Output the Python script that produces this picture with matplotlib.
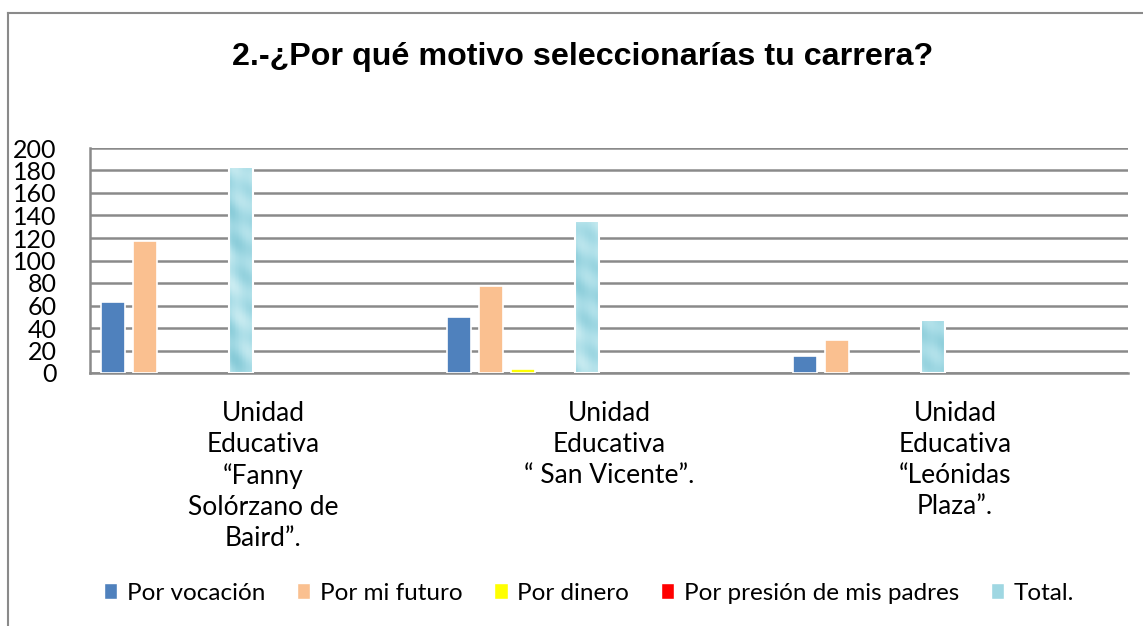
import numpy as np
import matplotlib
matplotlib.use('Agg')
import matplotlib.pyplot as plt
from matplotlib.lines import Line2D
from matplotlib.patches import Patch

# data
categories = ['Unidad\nEducativa\n\u201cFanny\nSol\u00f3rzano de\nBaird\u201d.',
              'Unidad\nEducativa\n\u201c San Vicente\u201d.',
              'Unidad\nEducativa\n\u201cLe\u00f3nidas\nPlaza\u201d.']
series = ['Por vocaci\u00f3n', 'Por mi futuro', 'Por dinero',
          'Por presi\u00f3n de mis padres', 'Total.']
vocacion = [63, 50, 15]
futuro = [117, 77, 29]
dinero = [0, 4, 0]
presion = [0, 0, 0]
total = [183, 135, 47]
yticks = list(range(0, 201, 20))

values = [vocacion, futuro, dinero, presion, total]
colors = ['#4f81bd', '#fac090', '#ffff00', '#ff0000', '#9fd7e2']

W, H = 1143, 626
fig = plt.figure(figsize=(W / 100, H / 100), dpi=100)
ax = fig.add_axes([90 / W, 1 - 373 / H, (1128 - 90) / W, (373 - 148) / H])

grid_c = '#8a8a8a'
catw = 346.0
bw = 24 / catw
cmap_w = matplotlib.colors.LinearSegmentedColormap.from_list('w', ['#7fc6d4', '#a9dde7', '#d3f0f4'])
gx, gy = np.meshgrid(np.linspace(0, 3, 300), np.linspace(0, 200, 400))
tex = 0.5 + 0.25 * np.sin(gx * 60 + gy * 0.15) * np.cos(gy * 0.09 - gx * 25) \
    + 0.15 * np.sin(gy * 0.05 + gx * 40)

for j, (vals, c) in enumerate(zip(values, colors)):
    xs = [i + (23 + 32 * j) / catw for i in range(len(categories)) if vals[i] > 0]
    hs = [v for v in vals if v > 0]
    if not hs:
        continue
    bars = ax.bar(xs, hs, width=bw, color=c, edgecolor='white', linewidth=1.2, zorder=3)
    if j == 4:
        # light water-like texture for the Total bars
        for b in bars:
            im = ax.imshow(tex, extent=[0, 3, 0, 200], origin='lower', cmap=cmap_w,
                           vmin=0, vmax=1, aspect='auto', zorder=3.5)
            im.set_clip_path(b)
            ax.bar(b.get_x() + b.get_width() / 2, b.get_height(), width=bw, facecolor='none',
                   edgecolor='white', linewidth=1.5, zorder=4)

ax.set_xlim(0, 3)
ax.set_ylim(0, 200)
ax.set_yticks(yticks)
ax.set_xticks([i + 0.5 for i in range(len(categories))])
ax.set_xticklabels(categories, fontsize=19, family='Lato', linespacing=1.3)
ax.set_yticklabels([str(v) for v in yticks], fontsize=18, family='Lato')
ax.tick_params(axis='x', length=0, pad=20)
ax.tick_params(axis='y', length=0, pad=24)
ax.grid(axis='y', color=grid_c, linewidth=1.8, zorder=1)
for s in ['top', 'right']:
    ax.spines[s].set_visible(False)
for s in ['left', 'bottom']:
    ax.spines[s].set_color(grid_c)
    ax.spines[s].set_linewidth(1.8)

fig.text(583 / W, 1 - 57 / H, '2.-\u00bfPor qu\u00e9 motivo seleccionar\u00edas tu carrera?',
         ha='center', va='center', fontsize=23.2, fontweight='bold', family='Liberation Sans')

handles = [Patch(facecolor=c, edgecolor='white') for c in colors]
fig.legend(handles, series, loc='center', bbox_to_anchor=(589 / W, 1 - 593 / H), ncol=5,
           frameon=False, prop={'family': 'Lato', 'size': 17.5}, handlelength=0.55, handleheight=0.6,
           handletextpad=0.4, columnspacing=1.3)

# outer chart border (top and left visible)
fig.add_artist(Line2D([8 / W, 1], [1 - 13 / H, 1 - 13 / H], color=grid_c, linewidth=1.5))
fig.add_artist(Line2D([8 / W, 8 / W], [0, 1 - 13 / H], color=grid_c, linewidth=1.5))

fig.savefig('out.png', dpi=100)
